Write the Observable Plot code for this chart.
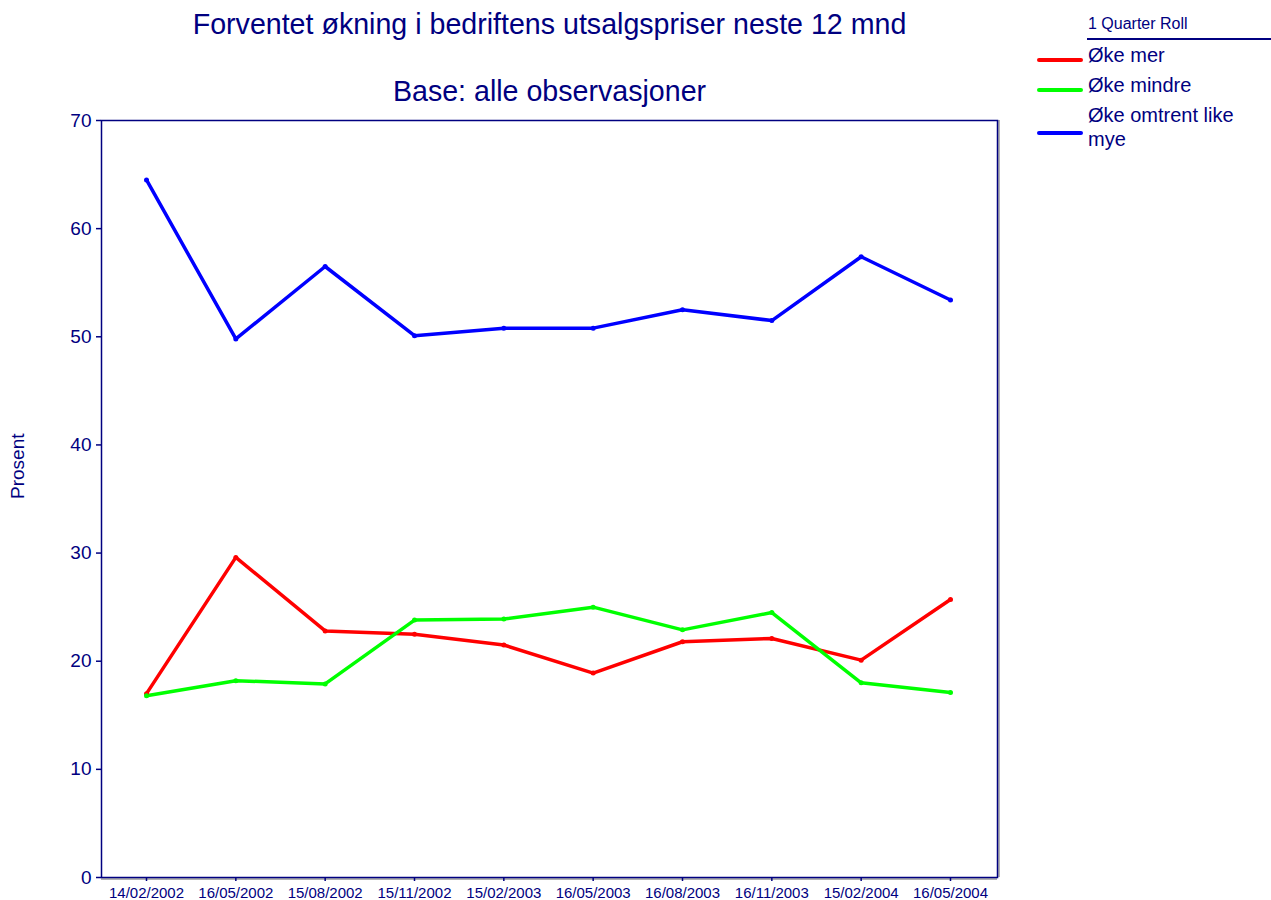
<!DOCTYPE html>
<html>
<head>
<meta charset="utf-8">
<script src="https://cdn.jsdelivr.net/npm/d3@7"></script>
<script src="https://cdn.jsdelivr.net/npm/@observablehq/plot@0.6"></script>
<style>
  html, body { margin: 0; padding: 0; background: #fff; }
  #wrap { position: relative; width: 1271px; height: 900px; font-family: "Liberation Sans", Arial, sans-serif; color: #000080; }
  #chart { position: absolute; left: 0; top: 0; }
  .lg { position: absolute; font-size: 20px; line-height: 24px; color: #000080; white-space: nowrap; }
  .sw { position: absolute; height: 4px; border-radius: 2px; }
</style>
</head>
<body>
<div id="wrap">
  <div id="chart"></div>
  <div class="lg" style="left:1088px; top:15px; font-size:16px; line-height:18px;">1 Quarter Roll</div>
  <div style="position:absolute; left:1087px; top:38px; width:184px; height:1.5px; background:#000080;"></div>
  <div id="legend"></div>
</div>
<script>
const titleText = "Forventet økning i bedriftens utsalgspriser neste 12 mnd";
const subtitleText = "Base: alle observasjoner";
const yLabel = "Prosent";
const dates = ["14/02/2002","16/05/2002","15/08/2002","15/11/2002","15/02/2003","16/05/2003","16/08/2003","16/11/2003","15/02/2004","16/05/2004"];
const seriesNames = ["Øke mer","Øke mindre","Øke omtrent like mye"];
const seriesColors = ["#ff0000","#00ff00","#0000ff"];
const okeMer = [17.0, 29.6, 22.8, 22.5, 21.5, 18.9, 21.8, 22.1, 20.1, 25.7];
const okeMindre = [16.8, 18.2, 17.9, 23.8, 23.9, 25.0, 22.9, 24.5, 18.0, 17.1];
const okeLike = [64.5, 49.8, 56.5, 50.1, 50.8, 50.8, 52.5, 51.5, 57.4, 53.4];
const yTicks = [0, 10, 20, 30, 40, 50, 60, 70];

const seriesValues = [okeMer, okeMindre, okeLike];
const data = [];
seriesNames.forEach((s, i) => dates.forEach((d, j) => data.push({series: s, date: d, value: seriesValues[i][j]})));

const navy = "#000080";
const chart = Plot.plot({
  width: 1271,
  height: 900,
  marginLeft: 101,
  marginRight: 274,
  marginTop: 120,
  marginBottom: 23,
  style: {fontFamily: "'Liberation Sans', Arial, sans-serif", color: navy, background: "transparent", overflow: "visible"},
  x: {type: "point", domain: dates, range: [146, 950], padding: 0, round: false},
  y: {domain: [0, 70]},
  color: {domain: seriesNames, range: seriesColors},
  marks: [
    Plot.ruleY([0], {stroke: "#999", strokeWidth: 1.5, dy: 1.5}),
    Plot.ruleX([dates[dates.length - 1]], {stroke: "#999", strokeWidth: 1.5, dx: 48.5}),
    Plot.frame({stroke: navy, strokeWidth: 1.5}),
    Plot.axisY({ticks: yTicks, tickSize: 5, tickPadding: 5, fontSize: 19, label: null, stroke: navy, strokeWidth: 1.5}),
    Plot.axisX({tickSize: 4, tickPadding: 6, fontSize: 15, label: null, stroke: navy, strokeWidth: 1.5}),
    Plot.line(data, {x: "date", y: "value", z: "series", stroke: "series", strokeWidth: 3.5, strokeLinecap: "round", strokeLinejoin: "round"}),
    Plot.dot(data, {x: "date", y: "value", fill: "series", r: 2.5}),
    Plot.text([titleText], {frameAnchor: "top", dy: -96, fontSize: 28.6, fill: navy, lineAnchor: "middle"}),
    Plot.text([subtitleText], {frameAnchor: "top", dy: -29, fontSize: 28.6, fill: navy, lineAnchor: "middle"}),
    Plot.text([yLabel], {frameAnchor: "left", dx: -84, rotate: -90, fontSize: 19, fill: navy, lineAnchor: "middle"})
  ]
});
document.getElementById("chart").appendChild(chart);

const legendEl = document.getElementById("legend");
const swY = [60, 90, 133];
const txtTop = [43, 73, 103];
const labels = ["Øke mer", "Øke mindre", "Øke omtrent like<br>mye"];
seriesNames.forEach((s, i) => {
  const sw = document.createElement("div");
  sw.className = "sw";
  sw.style.left = "1037px"; sw.style.width = "46px"; sw.style.top = (swY[i] - 2) + "px";
  sw.style.background = seriesColors[i];
  legendEl.appendChild(sw);
  const t = document.createElement("div");
  t.className = "lg";
  t.style.left = "1088px"; t.style.top = txtTop[i] + "px";
  t.innerHTML = labels[i];
  legendEl.appendChild(t);
});
</script>
</body>
</html>
